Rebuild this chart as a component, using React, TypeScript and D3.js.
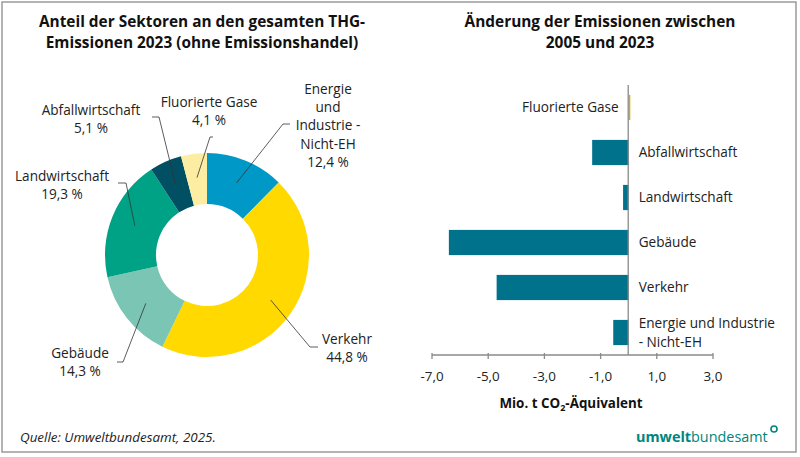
import React from "react";
import * as d3 from "d3";

// Donut data (share 2023, %)
const pieLabels = ["Energie und Industrie - Nicht-EH", "Verkehr", "Gebäude", "Landwirtschaft", "Abfallwirtschaft", "Fluorierte Gase"];
const pieValues = [12.4, 44.8, 14.3, 19.3, 5.1, 4.1];
const pieColors = ["#0098c6", "#ffd900", "#7bc5b5", "#00a285", "#004f63", "#fdeda2"];

// Bar data (change 2005-2023, Mio. t CO2-eq)
const barCategories = ["Fluorierte Gase", "Abfallwirtschaft", "Landwirtschaft", "Gebäude", "Verkehr", "Energie und Industrie - Nicht-EH"];
const barLabelLines = [["Fluorierte Gase"], ["Abfallwirtschaft"], ["Landwirtschaft"], ["Gebäude"], ["Verkehr"], ["Energie und Industrie", "- Nicht-EH"]];
const barValues = [0.03, -1.3, -0.2, -6.4, -4.7, -0.55];
const xTicks = [-7, -5, -3, -1, 1, 3];

const FONT = "'Open Sans', 'Noto Sans', sans-serif";

const fmt = (v: number) => v.toFixed(1).replace(".", ",");

// label layout for the donut: text lines, anchor position, leader polyline (elbow points)
const pieLabelLayout = [
  { lines: ["Energie", "und", "Industrie -", "Nicht-EH", "12,4 %"], x: 328, y: 94, leader: [[283, 124], [290, 124]] },
  { lines: ["Verkehr", "44,8 %"], x: 347, y: 344, leader: [[310, 347], [318, 347]] },
  { lines: ["Gebäude", "14,3 %"], x: 80, y: 358, leader: [[123, 362], [117, 362]] },
  { lines: ["Landwirtschaft", "19,3 %"], x: 62, y: 181, leader: [[126, 183], [118, 183]] },
  { lines: ["Abfallwirtschaft", "5,1 %"], x: 91, y: 115, leader: [[159, 117], [152, 117]] },
  { lines: ["Fluorierte Gase", "4,1 %"], x: 209, y: 107, leader: [[210, 137], [213, 137]] },
];

export default function App() {
  const W = 800, H = 457;
  const cx = 207, cy = 255, rOuter = 102, rInner = 51;
  const pie = d3.pie<number>().sort(null).value((d) => d)(pieValues);
  const arc = d3.arc<d3.PieArcDatum<number>>().innerRadius(rInner).outerRadius(rOuter);
  const lineGen = d3.line();

  const x = d3.scaleLinear().domain([-7, 3]).range([432, 713]);
  const y = d3.scaleBand<string>().domain(barCategories).range([85, 355]).paddingInner(0.44).paddingOuter(0.22);
  const axisY = 355;

  return (
    <svg width={W} height={H} style={{ display: "block", position: "absolute", left: 0, top: 0 }} fontFamily={FONT}>
      <rect x={0} y={0} width={W} height={H} fill="#fff" />
      <rect x={2} y={2} width={794} height={450} fill="none" stroke="#9a9a9a" strokeWidth={1.5} />

      {/* Left title */}
      <text x={202} y={27} textAnchor="middle" fontSize={15.4} fontWeight={700} fill="#111">Anteil der Sektoren an den gesamten THG-</text>
      <text x={202} y={48} textAnchor="middle" fontSize={15.4} fontWeight={700} fill="#111">Emissionen 2023 (ohne Emissionshandel)</text>

      {/* Donut */}
      <g transform={`translate(${cx},${cy})`}>
        {pie.map((p, i) => (
          <path key={i} d={arc(p) || ""} fill={pieColors[i]} />
        ))}
      </g>
      {pie.map((p, i) => {
        const a = (p.startAngle + p.endAngle) / 2;
        const r = (rInner + rOuter) / 2 + 1.5;
        const start: [number, number] = [cx + r * Math.sin(a), cy - r * Math.cos(a)];
        const lay = pieLabelLayout[i];
        const pts = [start, ...lay.leader] as [number, number][];
        return <path key={"l" + i} d={lineGen(pts) || ""} fill="none" stroke="#333" strokeWidth={0.8} />;
      })}
      {pieLabelLayout.map((lay, i) => (
        <text key={"t" + i} x={lay.x} y={lay.y} textAnchor="middle" fontSize={13.6} fill="#222">
          {lay.lines.map((ln, j) => (
            <tspan key={j} x={lay.x} dy={j === 0 ? 0 : 18.2}>{ln}</tspan>
          ))}
        </text>
      ))}

      {/* Right title */}
      <text x={600} y={27} textAnchor="middle" fontSize={15.4} fontWeight={700} fill="#111">Änderung der Emissionen zwischen</text>
      <text x={600} y={48} textAnchor="middle" fontSize={15.4} fontWeight={700} fill="#111">2005 und 2023</text>

      {/* Bars */}
      {barCategories.map((c, i) => {
        const v = barValues[i];
        const x0 = x(Math.min(0, v));
        const w = Math.abs(x(v) - x(0));
        return (
          <rect key={c} x={x0} y={y(c)!} width={Math.max(w, 1.6)} height={y.bandwidth()} fill={v >= 0 ? "#d9ad00" : "#00728c"} />
        );
      })}
      {/* zero line */}
      <line x1={x(0) - 0.5} x2={x(0) - 0.5} y1={85} y2={axisY} stroke="#8a8a8a" strokeWidth={1.3} />
      {/* category labels */}
      {barCategories.map((c, i) => {
        const v = barValues[i];
        const lines = barLabelLines[i];
        const cyb = y(c)! + y.bandwidth() / 2;
        const lx = v >= 0 ? x(0) - 10 : x(0) + 10;
        const anchor = v >= 0 ? "end" : "start";
        const y0 = cyb + 4.5 - ((lines.length - 1) * 19) / 2;
        return (
          <text key={"bl" + c} x={lx} y={y0} textAnchor={anchor} fontSize={13.6} fill="#222">
            {lines.map((ln, j) => (
              <tspan key={j} x={lx} dy={j === 0 ? 0 : 19}>{ln}</tspan>
            ))}
          </text>
        );
      })}
      {/* x axis */}
      <line x1={x(-7)} x2={x(3)} y1={axisY} y2={axisY} stroke="#8a8a8a" strokeWidth={1.3} />
      {xTicks.map((t) => (
        <g key={t}>
          <line x1={x(t)} x2={x(t)} y1={axisY - 2} y2={axisY + 4} stroke="#8a8a8a" strokeWidth={1.3} />
          <text x={x(t)} y={381} textAnchor="middle" fontSize={13.4} fill="#222">{fmt(t)}</text>
        </g>
      ))}
      <text x={571} y={408} textAnchor="middle" fontSize={13.4} fontWeight={700} fill="#111">
        Mio. t CO<tspan fontSize={9} dy={3}>2</tspan><tspan dy={-3}>-Äquivalent</tspan>
      </text>

      {/* Footer */}
      <text x={20} y={442} fontSize={13.4} fontStyle="italic" fill="#222">Quelle: Umweltbundesamt, 2025.</text>
      <text x={636} y={442} fontSize={14.4} fill="#00857e">
        <tspan fontWeight={700}>umwelt</tspan><tspan>bundesamt</tspan>
      </text>
      <circle cx={774} cy={429} r={3} fill="none" stroke="#00857e" strokeWidth={1.6} />
    </svg>
  );
}
